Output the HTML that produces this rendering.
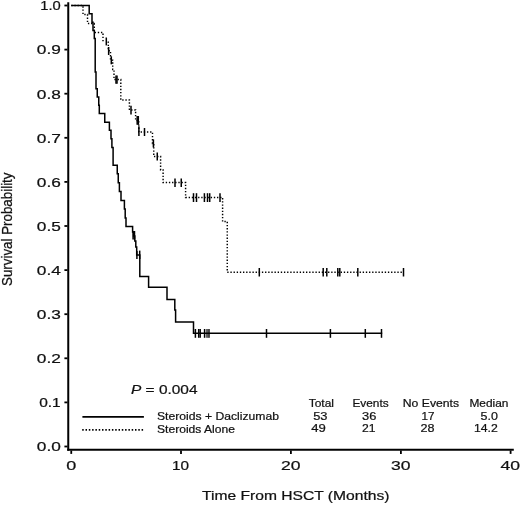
<!DOCTYPE html>
<html><head><meta charset="utf-8"><title>Survival</title>
<style>
html,body{margin:0;padding:0;background:#fff;}
body{width:520px;height:505px;overflow:hidden;}
svg{display:block;filter:grayscale(1);}
text{font-family:"Liberation Sans",sans-serif;fill:#111;stroke:#111;stroke-width:0.22px;}
</style></head><body>
<svg width="520" height="505" viewBox="0 0 520 505">
<rect width="520" height="505" fill="#fff"/>

<g stroke="#000" fill="none">
<line x1="68.25" y1="2.2" x2="68.25" y2="450.85" stroke-width="2.0"/>
<line x1="67.25" y1="449.85" x2="513.8" y2="449.85" stroke-width="2.0"/>
<line x1="64.4" y1="5.50" x2="67.5" y2="5.50" stroke-width="1.8"/>
<line x1="64.4" y1="49.60" x2="67.5" y2="49.60" stroke-width="1.8"/>
<line x1="64.4" y1="93.70" x2="67.5" y2="93.70" stroke-width="1.8"/>
<line x1="64.4" y1="137.80" x2="67.5" y2="137.80" stroke-width="1.8"/>
<line x1="64.4" y1="181.90" x2="67.5" y2="181.90" stroke-width="1.8"/>
<line x1="64.4" y1="226.00" x2="67.5" y2="226.00" stroke-width="1.8"/>
<line x1="64.4" y1="270.10" x2="67.5" y2="270.10" stroke-width="1.8"/>
<line x1="64.4" y1="314.20" x2="67.5" y2="314.20" stroke-width="1.8"/>
<line x1="64.4" y1="358.30" x2="67.5" y2="358.30" stroke-width="1.8"/>
<line x1="64.4" y1="402.40" x2="67.5" y2="402.40" stroke-width="1.8"/>
<line x1="64.4" y1="446.50" x2="67.5" y2="446.50" stroke-width="1.8"/>
<line x1="71.25" y1="450.5" x2="71.25" y2="453.9" stroke-width="1.8"/>
<line x1="181" y1="450.5" x2="181" y2="453.9" stroke-width="1.8"/>
<line x1="290.9" y1="450.5" x2="290.9" y2="453.9" stroke-width="1.8"/>
<line x1="400.9" y1="450.5" x2="400.9" y2="453.9" stroke-width="1.8"/>
<line x1="510.6" y1="450.5" x2="510.6" y2="453.9" stroke-width="1.8"/>
</g>
<path d="M71.25,5.5 H83 V14.5 H87.5 V23.5 H94.3 V32.5 H103 V42.3 M107.6,42.2 H108.3 V50.7 H110.5 V60.2 H112.7 V69.5 H114 V79.5 H120.8 V100 H129.4 V110 H135.6 V120.4 H138.8 V132 H152.5 V143.5 H153.75 V156.5 H160.6 V170 H163.1 V182.5 H185.6 V197.4 H222.6 V221.5 H227.25 V272.2 H403.5" fill="none" stroke="#000" stroke-width="1.45" stroke-dasharray="1.35 1.8"/>
<g stroke="#000"><line x1="106.3" y1="37.5" x2="106.3" y2="45.4" stroke-width="1.5"/><line x1="108.65" y1="47" x2="108.65" y2="55" stroke-width="1.5"/><line x1="111.3" y1="56.3" x2="111.3" y2="64.3" stroke-width="1.5"/><line x1="116" y1="75.4" x2="116" y2="83.7" stroke-width="1.5"/><line x1="117" y1="75.4" x2="117" y2="83.7" stroke-width="1.5"/><line x1="131" y1="105.7" x2="131" y2="114.4" stroke-width="1.5"/><line x1="137.2" y1="116" x2="137.2" y2="124.8" stroke-width="1.5"/><line x1="138.3" y1="116" x2="138.3" y2="124.8" stroke-width="1.5"/><line x1="138.9" y1="126.3" x2="138.9" y2="136" stroke-width="1.5"/><line x1="144.5" y1="128" x2="144.5" y2="136" stroke-width="1.5"/><line x1="153.4" y1="139.4" x2="153.4" y2="147.5" stroke-width="1.5"/><line x1="157.25" y1="152.5" x2="157.25" y2="160.6" stroke-width="1.5"/><line x1="175" y1="178.5" x2="175" y2="187" stroke-width="1.5"/><line x1="181.25" y1="178.5" x2="181.25" y2="187" stroke-width="1.5"/><line x1="193.5" y1="193.2" x2="193.5" y2="202" stroke-width="1.5"/><line x1="196.5" y1="193.2" x2="196.5" y2="202" stroke-width="1.5"/><line x1="204.4" y1="193.2" x2="204.4" y2="202" stroke-width="1.5"/><line x1="207.5" y1="193.2" x2="207.5" y2="202" stroke-width="1.5"/><line x1="209.7" y1="193.2" x2="209.7" y2="202" stroke-width="1.5"/><line x1="220" y1="193.2" x2="220" y2="202" stroke-width="1.5"/><line x1="259.3" y1="268" x2="259.3" y2="276.5" stroke-width="1.5"/><line x1="323.2" y1="268" x2="323.2" y2="276.5" stroke-width="1.5"/><line x1="326.8" y1="268" x2="326.8" y2="276.5" stroke-width="1.5"/><line x1="337.8" y1="268" x2="337.8" y2="276.5" stroke-width="1.5"/><line x1="339.8" y1="268" x2="339.8" y2="276.5" stroke-width="1.5"/><line x1="357.8" y1="268" x2="357.8" y2="276.5" stroke-width="1.5"/><line x1="403.5" y1="268" x2="403.5" y2="276.5" stroke-width="1.5"/></g>
<path d="M71.25,5.5 H89.2 V13.7 H92 V22.2 H93 V30.5 H94.3 V38.5 H95.2 V72 H96 V88.7 H97.25 V97 H98.75 V105.3 H99.3 V113.5 H104.75 V122.25 H109.4 V130.2 H111 V138.75 H111.9 V147.5 H113.1 V165.25 H117.25 V173.75 H118.25 V182.75 H119.4 V191.5 H121 V200.4 H124.4 V209 H125.2 V218 H126 V226.6 H132.6 V232 H133.6 V236 H134.8 V241 H135.8 V247 H136.7 V255 H139.8 V276.5 H148.6 V287.3 H167 V299.4 H174.8 V310 H175.6 V322 H193.5 V333.35 H382.2" fill="none" stroke="#000" stroke-width="1.5" stroke-linejoin="miter"/>
<g stroke="#000"><line x1="195.4" y1="329" x2="195.4" y2="337.8" stroke-width="1.5"/><line x1="198.7" y1="329" x2="198.7" y2="337.8" stroke-width="1.5"/><line x1="200.2" y1="329" x2="200.2" y2="337.8" stroke-width="1.5"/><line x1="204.6" y1="329" x2="204.6" y2="337.8" stroke-width="1.5"/><line x1="206.9" y1="329" x2="206.9" y2="337.8" stroke-width="1.0"/><line x1="208.1" y1="329" x2="208.1" y2="337.8" stroke-width="1.0"/><line x1="209.2" y1="329" x2="209.2" y2="337.8" stroke-width="1.0"/><line x1="266.5" y1="329" x2="266.5" y2="337.8" stroke-width="1.5"/><line x1="330.4" y1="329" x2="330.4" y2="337.8" stroke-width="1.5"/><line x1="365.3" y1="329" x2="365.3" y2="337.8" stroke-width="1.5"/><line x1="381.5" y1="329" x2="381.5" y2="337.8" stroke-width="1.5"/><line x1="133.1" y1="231" x2="133.1" y2="239.4" stroke-width="1.5"/><line x1="134.5" y1="231" x2="134.5" y2="239.4" stroke-width="1.5"/><line x1="136.9" y1="251" x2="136.9" y2="259" stroke-width="1.5"/><line x1="139.7" y1="250.6" x2="139.7" y2="259" stroke-width="1.5"/></g>
<line x1="82.4" y1="416.9" x2="143.9" y2="416.9" stroke="#000" stroke-width="1.9"/>
<line x1="82.2" y1="429.9" x2="143.2" y2="429.9" stroke="#000" stroke-width="1.6" stroke-dasharray="1.5 1.8"/>
<text x="40.2" y="10.30" font-size="12.3" text-anchor="start" textLength="20.5" lengthAdjust="spacingAndGlyphs" stroke="#111" stroke-width="0.35">1.0</text>
<text x="36.8" y="54.40" font-size="12.3" text-anchor="start" textLength="24" lengthAdjust="spacingAndGlyphs" stroke="#111" stroke-width="0.35">0.9</text>
<text x="36.8" y="98.50" font-size="12.3" text-anchor="start" textLength="24" lengthAdjust="spacingAndGlyphs" stroke="#111" stroke-width="0.35">0.8</text>
<text x="36.8" y="142.60" font-size="12.3" text-anchor="start" textLength="24" lengthAdjust="spacingAndGlyphs" stroke="#111" stroke-width="0.35">0.7</text>
<text x="36.8" y="186.70" font-size="12.3" text-anchor="start" textLength="24" lengthAdjust="spacingAndGlyphs" stroke="#111" stroke-width="0.35">0.6</text>
<text x="36.8" y="230.80" font-size="12.3" text-anchor="start" textLength="24" lengthAdjust="spacingAndGlyphs" stroke="#111" stroke-width="0.35">0.5</text>
<text x="36.8" y="274.90" font-size="12.3" text-anchor="start" textLength="24" lengthAdjust="spacingAndGlyphs" stroke="#111" stroke-width="0.35">0.4</text>
<text x="36.8" y="319.00" font-size="12.3" text-anchor="start" textLength="24" lengthAdjust="spacingAndGlyphs" stroke="#111" stroke-width="0.35">0.3</text>
<text x="36.8" y="363.10" font-size="12.3" text-anchor="start" textLength="24" lengthAdjust="spacingAndGlyphs" stroke="#111" stroke-width="0.35">0.2</text>
<text x="39.2" y="407.20" font-size="12.3" text-anchor="start" textLength="21.5" lengthAdjust="spacingAndGlyphs" stroke="#111" stroke-width="0.35">0.1</text>
<text x="36.8" y="451.30" font-size="12.3" text-anchor="start" textLength="24" lengthAdjust="spacingAndGlyphs" stroke="#111" stroke-width="0.35">0.0</text>
<text x="66.3" y="470" font-size="12.3" text-anchor="start" textLength="10" lengthAdjust="spacingAndGlyphs" stroke="#111" stroke-width="0.35">0</text>
<text x="172" y="470" font-size="12.3" text-anchor="start" textLength="17" lengthAdjust="spacingAndGlyphs" stroke="#111" stroke-width="0.35">10</text>
<text x="281" y="470" font-size="12.3" text-anchor="start" textLength="19.5" lengthAdjust="spacingAndGlyphs" stroke="#111" stroke-width="0.35">20</text>
<text x="391" y="470" font-size="12.3" text-anchor="start" textLength="19.5" lengthAdjust="spacingAndGlyphs" stroke="#111" stroke-width="0.35">30</text>
<text x="500.6" y="470" font-size="12.3" text-anchor="start" textLength="19.5" lengthAdjust="spacingAndGlyphs" stroke="#111" stroke-width="0.35">40</text>
<text x="202" y="500.3" font-size="12.8" text-anchor="start" textLength="187.5" lengthAdjust="spacingAndGlyphs">Time From HSCT (Months)</text>
<text transform="translate(12.4,286) scale(1.15,1) rotate(-90)" font-size="12.3" textLength="113.5" lengthAdjust="spacingAndGlyphs">Survival Probability</text>
<text x="131" y="393.6" font-size="12.8" textLength="66.5" lengthAdjust="spacingAndGlyphs"><tspan font-style="italic">P</tspan> = 0.004</text>
<text x="157" y="419.8" font-size="11.5" text-anchor="start" textLength="122" lengthAdjust="spacingAndGlyphs">Steroids + Daclizumab</text>
<text x="157" y="432.5" font-size="11.5" text-anchor="start" textLength="78" lengthAdjust="spacingAndGlyphs">Steroids Alone</text>
<text x="308.7" y="407" font-size="11.1" text-anchor="start" textLength="25.3" lengthAdjust="spacingAndGlyphs">Total</text>
<text x="352.4" y="407" font-size="11.1" text-anchor="start" textLength="36.3" lengthAdjust="spacingAndGlyphs">Events</text>
<text x="402.8" y="407" font-size="11.1" text-anchor="start" textLength="56.3" lengthAdjust="spacingAndGlyphs">No Events</text>
<text x="469.4" y="407" font-size="11.1" text-anchor="start" textLength="39" lengthAdjust="spacingAndGlyphs">Median</text>
<text x="313.2" y="419.6" font-size="11.1" text-anchor="start" textLength="14.3" lengthAdjust="spacingAndGlyphs">53</text>
<text x="362" y="419.6" font-size="11.1" text-anchor="start" textLength="14.3" lengthAdjust="spacingAndGlyphs">36</text>
<text x="421.5" y="419.6" font-size="11.1" text-anchor="start" textLength="13" lengthAdjust="spacingAndGlyphs">17</text>
<text x="480.5" y="419.6" font-size="11.1" text-anchor="start" textLength="17.3" lengthAdjust="spacingAndGlyphs">5.0</text>
<text x="311.2" y="431.5" font-size="11.1" text-anchor="start" textLength="14.6" lengthAdjust="spacingAndGlyphs">49</text>
<text x="362" y="431.5" font-size="11.1" text-anchor="start" textLength="13.5" lengthAdjust="spacingAndGlyphs">21</text>
<text x="420.5" y="431.5" font-size="11.1" text-anchor="start" textLength="14" lengthAdjust="spacingAndGlyphs">28</text>
<text x="474" y="431.5" font-size="11.1" text-anchor="start" textLength="23.8" lengthAdjust="spacingAndGlyphs">14.2</text>
</svg></body></html>
